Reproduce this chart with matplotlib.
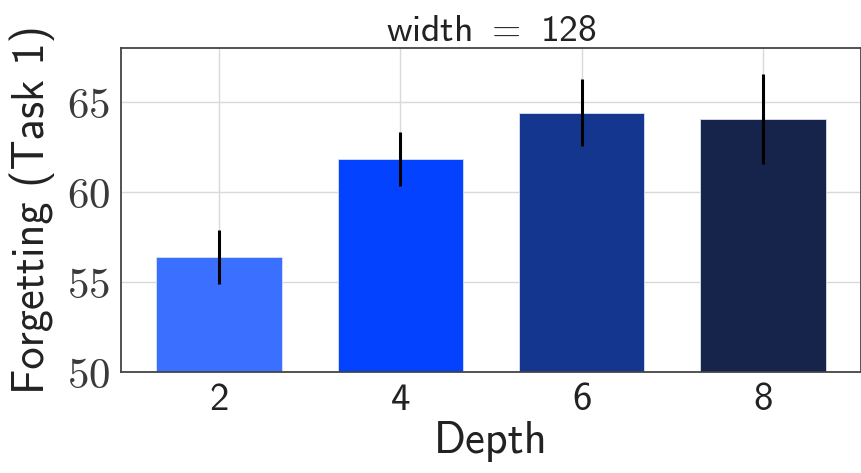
import matplotlib
matplotlib.use("Agg")
import matplotlib.pyplot as plt
import numpy as np

depths = ["2", "4", "6", "8"]
forgetting = [56.4, 61.85, 64.4, 64.05]
errors = [1.5, 1.5, 1.85, 2.5]
colors = ["#3b6fff", "#0343ff", "#14368f", "#16234a"]
yticks = [50, 55, 60, 65]

plt.rcParams["mathtext.fontset"] = "cm"
plt.rcParams["axes.unicode_minus"] = False

fig = plt.figure(figsize=(8.62, 4.73), dpi=100)
ax = fig.add_axes([121 / 862, 1 - 372 / 473, 740 / 862, 324 / 473])

x = np.arange(len(depths))
ax.bar(x, forgetting, width=0.69, color=colors, edgecolor="#d8e0f0", linewidth=0.6, zorder=2)
ax.errorbar(x, forgetting, yerr=errors, fmt="none", ecolor="black", elinewidth=2.2, capsize=0, zorder=3)

ax.set_xlim(-0.54, 3.54)
ax.set_ylim(50, 68)
ax.set_xticks(x)
ax.set_xticklabels(depths, family="cmss10", fontsize=28, color="#222222")
ax.set_yticks(yticks)
ax.set_yticklabels([f"${v}$" for v in yticks], fontsize=31, color="#3a3a3a")
ax.tick_params(length=0, pad=8)
ax.grid(True, color="#d9d9d9", linewidth=1.0, zorder=0)
ax.set_axisbelow(True)
for s in ax.spines.values():
    s.set_color("#444444")
    s.set_linewidth(1.3)

ax.set_xlabel("Depth", family="cmss10", fontsize=32, color="#222222", labelpad=2)
ax.set_ylabel("Forgetting (Task 1)", family="cmss10", fontsize=32, color="#222222", labelpad=8)
ax.set_title("width $=$ 128", family="cmss10", fontsize=27, color="#222222", pad=4)

fig.savefig("out.png", dpi=100)
